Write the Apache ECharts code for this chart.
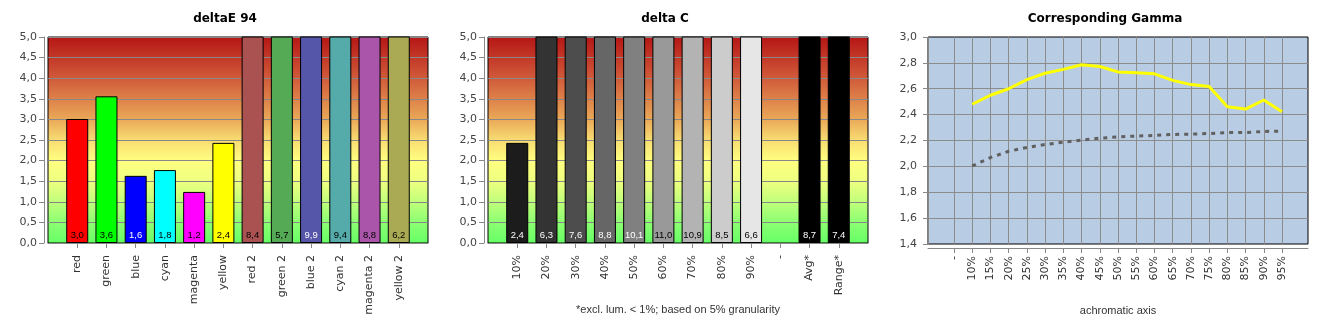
<!DOCTYPE html>
<html>
<head>
<meta charset="utf-8">
<script src="https://cdn.jsdelivr.net/npm/echarts@6/dist/echarts.min.js"></script>
<style>html,body{margin:0;padding:0;background:#fff}#c{width:1330px;height:330px}</style>
</head>
<body>
<div id="c"></div>
<script>
// ---- data ----
const deltaECats = ['red','green','blue','cyan','magenta','yellow','red 2','green 2','blue 2','cyan 2','magenta 2','yellow 2'];
const deltaEValues = [3.01, 3.56, 1.63, 1.77, 1.24, 2.43, 8.4, 5.7, 9.9, 9.4, 8.8, 6.2];
const deltaCCats = ['10%','20%','30%','40%','50%','60%','70%','80%','90%','-','Avg*','Range*'];
const deltaCValues = [2.43, 6.3, 7.6, 8.8, 10.1, 11.0, 10.9, 8.5, 6.6, null, 8.7, 7.4];
const gammaCats = ['-','10%','15%','20%','25%','30%','35%','40%','45%','50%','55%','60%','65%','70%','75%','80%','85%','90%','95%'];
const gammaMeasured = [null, 2.48, 2.55, 2.60, 2.67, 2.72, 2.75, 2.785, 2.772, 2.73, 2.723, 2.715, 2.665, 2.632, 2.617, 2.46, 2.443, 2.513, 2.423];
const gammaTarget = [null, 2.003, 2.068, 2.117, 2.146, 2.169, 2.187, 2.203, 2.218, 2.228, 2.234, 2.239, 2.247, 2.249, 2.254, 2.262, 2.262, 2.270, 2.272];
const yTicks1 = {min: 0, max: 5, interval: 0.5};
const yTicks3 = {min: 1.4, max: 3.0, interval: 0.2};

// ---- styles ----
const deltaEColors = ['#ff0000','#00ff00','#0000ff','#00ffff','#ff00ff','#ffff00','#aa5252','#55aa55','#5555aa','#55aaaa','#aa55aa','#aaaa55'];
const deltaELabelColors = ['#000','#000','#fff','#000','#000','#000','#000','#000','#fff','#000','#000','#000'];
const deltaCColors = ['#1c1c1c','#333333','#4d4d4d','#666666','#808080','#999999','#b3b3b3','#cccccc','#e6e6e6','#000','#000000','#000000'];
const deltaCLabelColors = ['#fff','#fff','#fff','#fff','#fff','#000','#000','#000','#000','#fff','#fff','#fff'];

const FONT = 'DejaVu Sans';
const comma = v => v.toFixed(1).replace('.', ',');
const gray = '#888888';

const heat = new echarts.graphic.LinearGradient(0, 0, 0, 1, [
  {offset: 0, color: '#b51515'},
  {offset: 0.2, color: '#d05a3a'},
  {offset: 0.4, color: '#eaa858'},
  {offset: 0.5, color: '#f8dc72'},
  {offset: 0.6, color: '#ffff80'},
  {offset: 0.7, color: '#eeff80'},
  {offset: 0.8, color: '#c0ff7a'},
  {offset: 0.9, color: '#8cff72'},
  {offset: 1, color: '#66ff66'}
]);

function pad(arr, v) { return [v].concat(arr, [v]); }

function barX(gridIndex, cats, name) {
  return {
    type: 'category', gridIndex, data: pad(cats, ''), boundaryGap: false,
    offset: 4,
    axisLine: {show: true, lineStyle: {color: gray, width: 1}},
    axisTick: {show: true, length: 5, lineStyle: {color: gray}, interval: (i, v) => v !== ''},
    axisLabel: {rotate: 90, margin: 8, color: '#333', fontFamily: FONT, fontSize: 11, interval: 0},
    splitLine: {show: false},
    name: name || '', nameLocation: 'middle', nameGap: 57,
    nameTextStyle: {color: '#333', fontFamily: 'Liberation Sans', fontSize: 11}
  };
}
function valY(gridIndex, t, showMax) {
  return {
    type: 'value', gridIndex, min: t.min, max: t.max, interval: t.interval,
    offset: 4,
    axisLine: {show: true, lineStyle: {color: gray}},
    axisTick: {show: true, length: 5, lineStyle: {color: gray}},
    axisLabel: {formatter: comma, color: '#444', fontFamily: FONT, fontSize: 11, margin: 7},
    splitLine: {show: true, showMinLine: false, showMaxLine: showMax, lineStyle: {color: gray, width: 1}}
  };
}
function barSeries(idx, values, colors, labelColors) {
  return {
    type: 'bar', xAxisIndex: idx, yAxisIndex: idx, barWidth: 22, clip: true,
    data: pad(values.map((v, i) => v == null ? null : {
      value: v,
      itemStyle: {color: colors[i], borderColor: '#000', borderWidth: 1},
      label: {color: labelColors[i]}
    }), null),
    label: {show: true, position: 'insideBottom', distance: 3, fontFamily: 'Liberation Sans', fontSize: 9.5,
      formatter: p => p.value == null ? '' : comma(p.value)},
    animation: false
  };
}

const chart = echarts.init(document.getElementById('c'), null, {renderer: 'canvas'});
chart.setOption({
  animation: false,
  title: [
    {text: 'deltaE 94', left: 225, top: 13, padding: 0, textAlign: 'center', textStyle: {fontFamily: FONT, fontSize: 12, fontWeight: 'bold', color: '#000'}},
    {text: 'delta C', left: 665, top: 13, padding: 0, textAlign: 'center', textStyle: {fontFamily: FONT, fontSize: 12, fontWeight: 'bold', color: '#000'}},
    {text: 'Corresponding Gamma', left: 1105, top: 13, padding: 0, textAlign: 'center', textStyle: {fontFamily: FONT, fontSize: 12, fontWeight: 'bold', color: '#000'}}
  ],
  grid: [
    {left: 48, top: 37, width: 380, height: 206, show: true, backgroundColor: heat, borderColor: '#000', borderWidth: 1},
    {left: 488, top: 37, width: 380, height: 206, show: true, backgroundColor: heat, borderColor: '#000', borderWidth: 1},
    {left: 928, top: 37, width: 380, height: 207, show: true, backgroundColor: '#b8cce4', borderColor: '#000', borderWidth: 1},
    {left: 954, top: 37, width: 328, height: 207, show: false}
  ],
  xAxis: [
    barX(0, deltaECats),
    barX(1, deltaCCats, '*excl. lum. < 1%; based on 5% granularity'),
    {type: 'value', gridIndex: 2, min: 0, max: 1, offset: 4,
      axisLine: {show: true, lineStyle: {color: gray}}, axisTick: {show: false}, axisLabel: {show: false}, splitLine: {show: false}},
    {type: 'category', gridIndex: 3, data: gammaCats, boundaryGap: false, offset: 4,
      axisLine: {show: false},
      axisTick: {show: true, length: 5, lineStyle: {color: gray}},
      axisLabel: {rotate: 90, margin: 8, color: '#333', fontFamily: FONT, fontSize: 11, interval: 0},
      splitLine: {show: true, lineStyle: {color: '#8c8c8c', width: 1}},
      name: 'achromatic axis', nameLocation: 'middle', nameGap: 57,
      nameTextStyle: {color: '#333', fontFamily: 'Liberation Sans', fontSize: 11}}
  ],
  yAxis: [
    valY(0, yTicks1, true),
    valY(1, yTicks1, true),
    Object.assign(valY(2, yTicks3, false), {splitLine: {show: true, showMinLine: false, showMaxLine: false, lineStyle: {color: '#8c8c8c'}}}),
    {type: 'value', gridIndex: 3, min: yTicks3.min, max: yTicks3.max, interval: yTicks3.interval, show: false}
  ],
  series: [
    barSeries(0, deltaEValues, deltaEColors, deltaELabelColors),
    barSeries(1, deltaCValues, deltaCColors, deltaCLabelColors),
    {type: 'line', xAxisIndex: 3, yAxisIndex: 3, data: gammaMeasured, symbol: 'none',
      lineStyle: {color: '#ffff00', width: 3}, z: 3},
    {type: 'line', xAxisIndex: 3, yAxisIndex: 3, data: gammaTarget, symbol: 'none',
      lineStyle: {color: '#606060', width: 3, type: [4, 5]}, z: 2}
  ]
});
</script>
</body>
</html>
